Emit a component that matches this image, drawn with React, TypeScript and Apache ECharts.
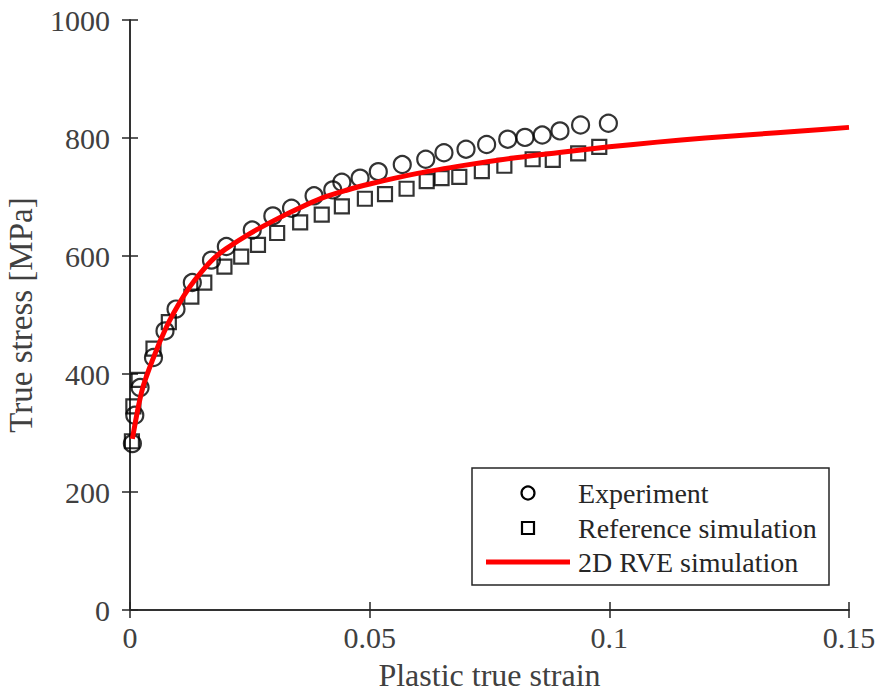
import React, { useEffect, useRef } from "react";
import * as echarts from "echarts";

const xTicks = [0, 0.05, 0.1, 0.15];
const yTicks = [0, 200, 400, 600, 800, 1000];

const experimentStrain = [0.0005, 0.001, 0.0021, 0.0049, 0.0073, 0.0096, 0.013, 0.017, 0.0201, 0.0255, 0.0298, 0.0337, 0.0384, 0.0423, 0.0442, 0.048, 0.0518, 0.0568, 0.0617, 0.0655, 0.0701, 0.0744, 0.0788, 0.0824, 0.086, 0.0897, 0.094, 0.0998];
const experimentStress = [282, 330, 377, 428, 473, 510, 555, 593, 616, 644, 668, 681, 702, 712, 725, 732, 743, 755, 764, 775, 781, 789, 798, 801, 805, 812, 822, 825];

const referenceStrain = [0.0004, 0.0007, 0.0018, 0.0049, 0.0081, 0.0128, 0.0155, 0.0197, 0.0232, 0.0267, 0.0307, 0.0355, 0.04, 0.0442, 0.049, 0.0532, 0.0577, 0.0619, 0.065, 0.0687, 0.0734, 0.0781, 0.084, 0.0882, 0.0935, 0.0979];
const referenceStress = [286, 345, 390, 443, 488, 531, 555, 582, 599, 619, 639, 657, 670, 684, 697, 705, 714, 727, 732, 734, 744, 753, 764, 763, 774, 785];

const rveStrain = [0.0005, 0.0025, 0.005, 0.0075, 0.01, 0.0125, 0.015, 0.0175, 0.02, 0.025, 0.03, 0.035, 0.04, 0.045, 0.05, 0.06, 0.07, 0.08, 0.09, 0.1, 0.11, 0.12, 0.13, 0.14, 0.15];
const rveStress = [290, 372, 430, 478, 516, 548, 574, 596, 612, 638, 660, 680, 698, 711, 722, 740, 754, 766, 776, 785, 793, 800, 806, 812, 818];

const seriesNames = ["Experiment", "Reference simulation", "2D RVE simulation"];

const FONT = "'Liberation Serif', 'Times New Roman', serif";
const AXIS = "#262626";
const TXT = "#404040";

const zip = (a: number[], b: number[]) => a.map((v, i) => [v, b[i]]);

export default function App() {
  const ref = useRef<HTMLDivElement>(null);
  useEffect(() => {
    if (!ref.current) return;
    const chart = echarts.init(ref.current, undefined, { renderer: "svg" });
    const xBase = {
      type: "value" as const,
      min: xTicks[0],
      max: xTicks[xTicks.length - 1],
      interval: 0.05,
      splitLine: { show: false },
      axisLine: { show: true, lineStyle: { color: AXIS, width: 1.5 } },
      axisTick: { show: true, inside: true, length: 8, lineStyle: { color: AXIS, width: 1.5 } },
    };
    const yBase = {
      type: "value" as const,
      min: yTicks[0],
      max: yTicks[yTicks.length - 1],
      interval: 200,
      splitLine: { show: false },
      axisLine: { show: true, lineStyle: { color: AXIS, width: 1.5 } },
      axisTick: { show: true, inside: true, length: 8, lineStyle: { color: AXIS, width: 1.5 } },
    };
    const legendY = [493, 528, 562];
    chart.setOption({
      animation: false,
      backgroundColor: "#ffffff",
      grid: { left: 130, right: 26, top: 20, bottom: 88, containLabel: false, outerBoundsMode: "none" },
      xAxis: [
        {
          ...xBase,
          position: "bottom",
          name: "Plastic true strain",
          nameLocation: "middle",
          nameGap: 43,
          nameTextStyle: { fontFamily: FONT, fontSize: 32, color: TXT, lineHeight: 36 },
          axisLabel: {
            show: true,
            margin: 12,
            fontFamily: FONT,
            fontSize: 30,
            lineHeight: 30,
            color: TXT,
            formatter: (v: number) => String(Number(v.toFixed(4))),
          },
        },
        { ...xBase, position: "top", axisLabel: { show: false } },
      ],
      yAxis: [
        {
          ...yBase,
          position: "left",
          name: "True stress [MPa]",
          nameLocation: "middle",
          nameGap: 82,
          nameTextStyle: { fontFamily: FONT, fontSize: 33, color: TXT, lineHeight: 36 },
          axisLabel: {
            show: true,
            margin: 20,
            fontFamily: FONT,
            fontSize: 30,
            color: TXT,
            formatter: (v: number) => String(v),
          },
        },
        { ...yBase, position: "right", axisLabel: { show: false } },
      ],
      series: [
        {
          name: seriesNames[0],
          type: "scatter",
          data: zip(experimentStrain, experimentStress),
          symbol: "circle",
          symbolSize: 17,
          itemStyle: { color: "rgba(0,0,0,0)", borderColor: "#000", borderWidth: 2.2 },
          z: 2,
        },
        {
          name: seriesNames[1],
          type: "scatter",
          data: zip(referenceStrain, referenceStress),
          symbol: "rect",
          symbolSize: 14,
          itemStyle: { color: "rgba(0,0,0,0)", borderColor: "#000", borderWidth: 2.2 },
          z: 2,
        },
        {
          name: seriesNames[2],
          type: "line",
          data: zip(rveStrain, rveStress),
          showSymbol: false,
          smooth: 0.3,
          lineStyle: { color: "#ff0000", width: 5 },
          z: 3,
        },
      ],
      graphic: [
        {
          type: "rect",
          shape: { x: 472, y: 468, width: 357, height: 117 },
          style: { fill: "#fff", stroke: AXIS, lineWidth: 1.5 },
          z: 10,
        },
        {
          type: "circle",
          shape: { cx: 528, cy: legendY[0], r: 6.5 },
          style: { fill: "none", stroke: "#000", lineWidth: 2.2 },
          z: 11,
        },
        {
          type: "rect",
          shape: { x: 522, y: legendY[1] - 6, width: 12, height: 12 },
          style: { fill: "none", stroke: "#000", lineWidth: 2.2 },
          z: 11,
        },
        {
          type: "line",
          shape: { x1: 486, y1: legendY[2], x2: 570, y2: legendY[2] },
          style: { stroke: "#ff0000", lineWidth: 5 },
          z: 11,
        },
        ...seriesNames.map((n, i) => ({
          type: "text",
          x: 578,
          y: legendY[i],
          style: {
            text: n,
            fontFamily: FONT,
            fontSize: 28,
            fill: "#262626",
            textVerticalAlign: "middle",
            verticalAlign: "middle",
          },
          z: 11,
        })),
      ],
    });
    return () => chart.dispose();
  }, []);
  return <div ref={ref} style={{ width: 875, height: 698, position: "absolute", left: 0, top: 0 }} />;
}
